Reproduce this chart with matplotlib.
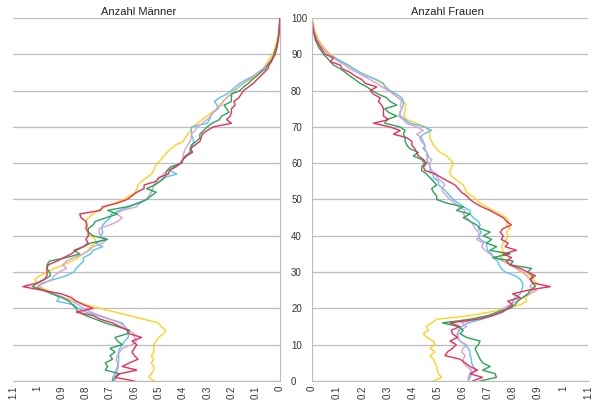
import matplotlib
matplotlib.use("Agg")
import matplotlib.pyplot as plt

plt.rcParams['font.family'] = ['Liberation Sans', 'DejaVu Sans']

# Altersstufen (0-89 jährlich, danach in 2er-Schritten)
alter = list(range(0, 90)) + [90, 92, 94, 96, 98, 100]

# Männer
m_gelb = [0.52, 0.54, 0.53, 0.52, 0.52, 0.53, 0.52, 0.53, 0.52, 0.52,
          0.52, 0.51, 0.50, 0.48, 0.47, 0.49, 0.50, 0.56, 0.62, 0.68,
          0.74, 0.80, 0.84, 0.89, 0.93, 0.96, 0.99, 1.00, 1.01, 0.99,
          0.96, 0.93, 0.89, 0.86, 0.83, 0.81, 0.79, 0.78, 0.76, 0.76,
          0.78, 0.79, 0.79, 0.80, 0.80, 0.79, 0.77, 0.75, 0.72, 0.68,
          0.645, 0.62, 0.595, 0.59, 0.585, 0.57, 0.55, 0.53, 0.52, 0.515,
          0.505, 0.49, 0.48, 0.465, 0.45, 0.43, 0.40, 0.39, 0.38, 0.37,
          0.36, 0.34, 0.32, 0.30, 0.28, 0.26, 0.25, 0.235, 0.22, 0.205,
          0.19, 0.17, 0.15, 0.125, 0.10, 0.08, 0.07, 0.06, 0.05, 0.04,
          0.03, 0.02, 0.012, 0.006, 0.003, 0.0]
m_rot = [0.60, 0.68, 0.66, 0.59, 0.65, 0.62, 0.585, 0.60, 0.61, 0.60,
         0.59, 0.61, 0.57, 0.62, 0.63, 0.66, 0.69, 0.74, 0.77, 0.84,
         0.77, 0.81, 0.84, 0.86, 0.90, 0.98, 1.06, 1.00, 0.97, 0.96,
         0.96, 0.96, 0.955, 0.92, 0.89, 0.86, 0.84, 0.81, 0.79, 0.80,
         0.79, 0.79, 0.80, 0.795, 0.80, 0.82, 0.825, 0.74, 0.73, 0.67,
         0.63, 0.61, 0.59, 0.56, 0.56, 0.51, 0.50, 0.46, 0.455, 0.43,
         0.41, 0.40, 0.385, 0.36, 0.37, 0.35, 0.33, 0.325, 0.32, 0.30,
         0.275, 0.20, 0.22, 0.205, 0.20, 0.20, 0.185, 0.19, 0.17, 0.16,
         0.15, 0.13, 0.11, 0.095, 0.08, 0.065, 0.05, 0.045, 0.035, 0.028,
         0.02, 0.012, 0.007, 0.004, 0.002, 0.0]
m_gruen = [0.69, 0.68, 0.66, 0.72, 0.71, 0.72, 0.69, 0.70, 0.68, 0.70,
           0.65, 0.67, 0.68, 0.63, 0.62, 0.67, 0.72, 0.76, 0.80, 0.83,
           0.84, 0.855, 0.87, 0.90, 0.94, 0.975, 1.02, 1.00, 0.97, 0.945,
           0.95, 0.96, 0.96, 0.95, 0.88, 0.825, 0.85, 0.81, 0.78, 0.71,
           0.77, 0.79, 0.79, 0.77, 0.76, 0.715, 0.67, 0.71, 0.63, 0.58,
           0.55, 0.53, 0.51, 0.55, 0.515, 0.495, 0.475, 0.47, 0.465, 0.45,
           0.405, 0.40, 0.39, 0.365, 0.37, 0.365, 0.345, 0.33, 0.33, 0.315,
           0.30, 0.28, 0.25, 0.24, 0.21, 0.22, 0.23, 0.20, 0.20, 0.20,
           0.165, 0.15, 0.13, 0.115, 0.096, 0.08, 0.06, 0.05, 0.04, 0.03,
           0.025, 0.015, 0.008, 0.004, 0.002, 0.0]
m_blau = [0.69, 0.69, 0.68, 0.675, 0.67, 0.665, 0.665, 0.665, 0.665, 0.66,
          0.65, 0.64, 0.625, 0.625, 0.63, 0.64, 0.65, 0.70, 0.75, 0.80,
          0.83, 0.85, 0.92, 0.91, 0.93, 0.975, 1.00, 0.98, 0.93, 0.88,
          0.85, 0.84, 0.825, 0.81, 0.81, 0.78, 0.77, 0.73, 0.76, 0.72,
          0.74, 0.73, 0.735, 0.73, 0.715, 0.70, 0.695, 0.66, 0.62, 0.59,
          0.55, 0.54, 0.53, 0.525, 0.52, 0.495, 0.48, 0.425, 0.455, 0.44,
          0.405, 0.40, 0.385, 0.375, 0.365, 0.36, 0.355, 0.36, 0.365, 0.365,
          0.365, 0.30, 0.29, 0.285, 0.275, 0.255, 0.26, 0.27, 0.25, 0.22,
          0.20, 0.185, 0.165, 0.14, 0.11, 0.09, 0.07, 0.055, 0.04, 0.03,
          0.025, 0.015, 0.008, 0.004, 0.002, 0.0]
m_rosa = [0.68, 0.675, 0.675, 0.67, 0.665, 0.67, 0.675, 0.67, 0.66, 0.65,
          0.61, 0.59, 0.60, 0.60, 0.625, 0.64, 0.66, 0.70, 0.74, 0.78,
          0.81, 0.83, 0.86, 0.89, 0.93, 0.97, 1.00, 0.97, 0.94, 0.93,
          0.91, 0.88, 0.895, 0.88, 0.85, 0.81, 0.785, 0.77, 0.73, 0.715,
          0.74, 0.745, 0.745, 0.70, 0.667, 0.65, 0.675, 0.65, 0.59, 0.58,
          0.55, 0.54, 0.53, 0.525, 0.52, 0.51, 0.495, 0.48, 0.465, 0.426,
          0.41, 0.40, 0.40, 0.395, 0.39, 0.38, 0.37, 0.365, 0.365, 0.35,
          0.34, 0.32, 0.30, 0.285, 0.275, 0.26, 0.24, 0.235, 0.22, 0.20,
          0.186, 0.17, 0.15, 0.13, 0.11, 0.09, 0.07, 0.055, 0.04, 0.03,
          0.025, 0.015, 0.008, 0.004, 0.002, 0.0]

# Frauen
f_gelb = [0.484, 0.517, 0.504, 0.50, 0.497, 0.49, 0.484, 0.47, 0.49, 0.47,
          0.49, 0.484, 0.457, 0.444, 0.464, 0.455, 0.477, 0.497, 0.63, 0.71,
          0.775, 0.83, 0.855, 0.85, 0.868, 0.88, 0.888, 0.895, 0.88, 0.868,
          0.83, 0.815, 0.79, 0.762, 0.755, 0.755, 0.762, 0.755, 0.762, 0.775,
          0.782, 0.775, 0.79, 0.775, 0.782, 0.775, 0.75, 0.722, 0.696, 0.67,
          0.656, 0.636, 0.616, 0.61, 0.603, 0.583, 0.563, 0.55, 0.55, 0.557,
          0.563, 0.55, 0.537, 0.51, 0.497, 0.484, 0.477, 0.47, 0.47, 0.464,
          0.45, 0.417, 0.378, 0.364, 0.371, 0.371, 0.375, 0.364, 0.345, 0.325,
          0.31, 0.298, 0.278, 0.252, 0.225, 0.192, 0.166, 0.139, 0.113, 0.093,
          0.073, 0.046, 0.026, 0.013, 0.007, 0.0]
f_rot = [0.64, 0.68, 0.63, 0.66, 0.63, 0.61, 0.59, 0.53, 0.54, 0.56,
         0.575, 0.55, 0.58, 0.56, 0.555, 0.59, 0.55, 0.66, 0.72, 0.76,
         0.78, 0.80, 0.78, 0.83, 0.80, 0.86, 0.95, 0.88, 0.87, 0.89,
         0.86, 0.83, 0.79, 0.775, 0.795, 0.762, 0.815, 0.77, 0.782, 0.755,
         0.762, 0.75, 0.762, 0.795, 0.775, 0.762, 0.735, 0.709, 0.676, 0.65,
         0.63, 0.616, 0.596, 0.583, 0.57, 0.543, 0.517, 0.49, 0.45, 0.444,
         0.457, 0.444, 0.424, 0.417, 0.41, 0.398, 0.398, 0.378, 0.325, 0.351,
         0.31, 0.245, 0.305, 0.285, 0.285, 0.285, 0.278, 0.265, 0.272, 0.245,
         0.232, 0.258, 0.212, 0.199, 0.172, 0.152, 0.12, 0.113, 0.073, 0.086,
         0.053, 0.033, 0.017, 0.007, 0.003, 0.0]
f_gruen = [0.67, 0.735, 0.73, 0.68, 0.71, 0.68, 0.67, 0.663, 0.656, 0.65,
           0.663, 0.67, 0.616, 0.59, 0.603, 0.583, 0.52, 0.63, 0.70, 0.74,
           0.79, 0.81, 0.82, 0.84, 0.86, 0.87, 0.89, 0.88, 0.87, 0.88,
           0.86, 0.875, 0.79, 0.802, 0.72, 0.79, 0.709, 0.736, 0.696, 0.716,
           0.683, 0.71, 0.67, 0.656, 0.63, 0.603, 0.63, 0.576, 0.603, 0.537,
           0.497, 0.497, 0.484, 0.477, 0.497, 0.484, 0.47, 0.457, 0.437, 0.437,
           0.45, 0.437, 0.404, 0.424, 0.39, 0.378, 0.371, 0.371, 0.364, 0.371,
           0.351, 0.29, 0.298, 0.338, 0.305, 0.29, 0.338, 0.311, 0.298, 0.265,
           0.24, 0.219, 0.192, 0.172, 0.152, 0.133, 0.113, 0.086, 0.073, 0.06,
           0.046, 0.026, 0.013, 0.007, 0.001, 0.0]
f_blau = [0.623, 0.63, 0.636, 0.65, 0.643, 0.636, 0.636, 0.63, 0.63, 0.623,
          0.61, 0.59, 0.577, 0.583, 0.583, 0.596, 0.623, 0.676, 0.72, 0.75,
          0.775, 0.795, 0.80, 0.81, 0.83, 0.835, 0.84, 0.84, 0.83, 0.81,
          0.77, 0.755, 0.745, 0.74, 0.722, 0.716, 0.70, 0.696, 0.696, 0.67,
          0.663, 0.676, 0.663, 0.67, 0.663, 0.643, 0.63, 0.63, 0.603, 0.583,
          0.563, 0.55, 0.537, 0.523, 0.504, 0.504, 0.484, 0.484, 0.47, 0.47,
          0.464, 0.457, 0.464, 0.457, 0.444, 0.45, 0.437, 0.43, 0.444, 0.477,
          0.45, 0.391, 0.371, 0.351, 0.351, 0.358, 0.364, 0.364, 0.358, 0.338,
          0.311, 0.29, 0.285, 0.258, 0.219, 0.192, 0.166, 0.146, 0.119, 0.093,
          0.066, 0.04, 0.02, 0.01, 0.003, 0.0]
f_rosa = [0.623, 0.623, 0.63, 0.636, 0.616, 0.603, 0.603, 0.61, 0.596, 0.603,
          0.616, 0.59, 0.583, 0.577, 0.59, 0.616, 0.596, 0.656, 0.71, 0.742,
          0.762, 0.788, 0.815, 0.84, 0.868, 0.895, 0.868, 0.88, 0.868, 0.855,
          0.84, 0.815, 0.788, 0.762, 0.729, 0.709, 0.69, 0.676, 0.683, 0.656,
          0.67, 0.663, 0.65, 0.643, 0.63, 0.616, 0.603, 0.61, 0.583, 0.57,
          0.55, 0.537, 0.523, 0.517, 0.53, 0.517, 0.497, 0.497, 0.477, 0.47,
          0.47, 0.477, 0.457, 0.457, 0.45, 0.45, 0.444, 0.437, 0.417, 0.444,
          0.417, 0.378, 0.364, 0.345, 0.351, 0.358, 0.351, 0.358, 0.345, 0.325,
          0.305, 0.278, 0.258, 0.232, 0.205, 0.179, 0.152, 0.133, 0.106, 0.086,
          0.066, 0.04, 0.02, 0.009, 0.003, 0.0]

farben = {'gelb': '#FFD21E', 'blau': '#55C5F2', 'rosa': '#D6A2D4',
          'gruen': '#2BA458', 'rot': '#E63058'}
grau = '#BDBDBD'

fig = plt.figure(figsize=(5.97, 4.05), dpi=100)
ax_m = fig.add_axes([0.0218, 0.0593, 0.4472, 0.8963])
ax_f = fig.add_axes([0.5226, 0.0593, 0.4623, 0.8963])

maenner = [('gelb', m_gelb), ('blau', m_blau), ('rosa', m_rosa),
           ('gruen', m_gruen), ('rot', m_rot)]
frauen = [('gelb', f_gelb), ('blau', f_blau), ('rosa', f_rosa),
          ('gruen', f_gruen), ('rot', f_rot)]

for name, werte in maenner:
    ax_m.plot(werte, alter, color=farben[name], lw=1.0)
for name, werte in frauen:
    ax_f.plot(werte, alter, color=farben[name], lw=1.0)

xticks = [i / 10 for i in range(12)]
xlabels = ['0', '0.1', '0.2', '0.3', '0.4', '0.5', '0.6', '0.7', '0.8',
           '0.9', '1', '1.1']

for ax in (ax_m, ax_f):
    ax.set_ylim(0, 100)
    ax.set_yticks(range(0, 101, 10))
    ax.set_xticks(xticks)
    ax.set_xticklabels(xlabels, rotation=90, fontsize=7, color='#333333')
    ax.grid(axis='y', color=grau, lw=0.9)
    ax.set_axisbelow(True)
    ax.tick_params(length=0, pad=3)
    for s in ax.spines.values():
        s.set_visible(False)
    ax.spines['bottom'].set_visible(True)
    ax.spines['bottom'].set_color(grau)

ax_m.set_xlim(1.1, 0)
ax_f.set_xlim(0, 1.1)

ax_m.spines['right'].set_visible(True)
ax_m.spines['right'].set_color(grau)
ax_f.spines['left'].set_visible(True)
ax_f.spines['left'].set_color(grau)

# Alterswerte in der Mitte zwischen beiden Hälften
ax_m.tick_params(axis='y', labelleft=False, labelright=True, pad=8,
                 labelsize=7, labelcolor='#333333')
ax_f.tick_params(axis='y', labelleft=False)

ax_m.set_title('Anzahl Männer', fontsize=8, x=0.47, pad=2, color='#222222')
ax_f.set_title('Anzahl Frauen', fontsize=8, x=0.49, pad=2, color='#222222')

fig.savefig('out.png', dpi=100)
